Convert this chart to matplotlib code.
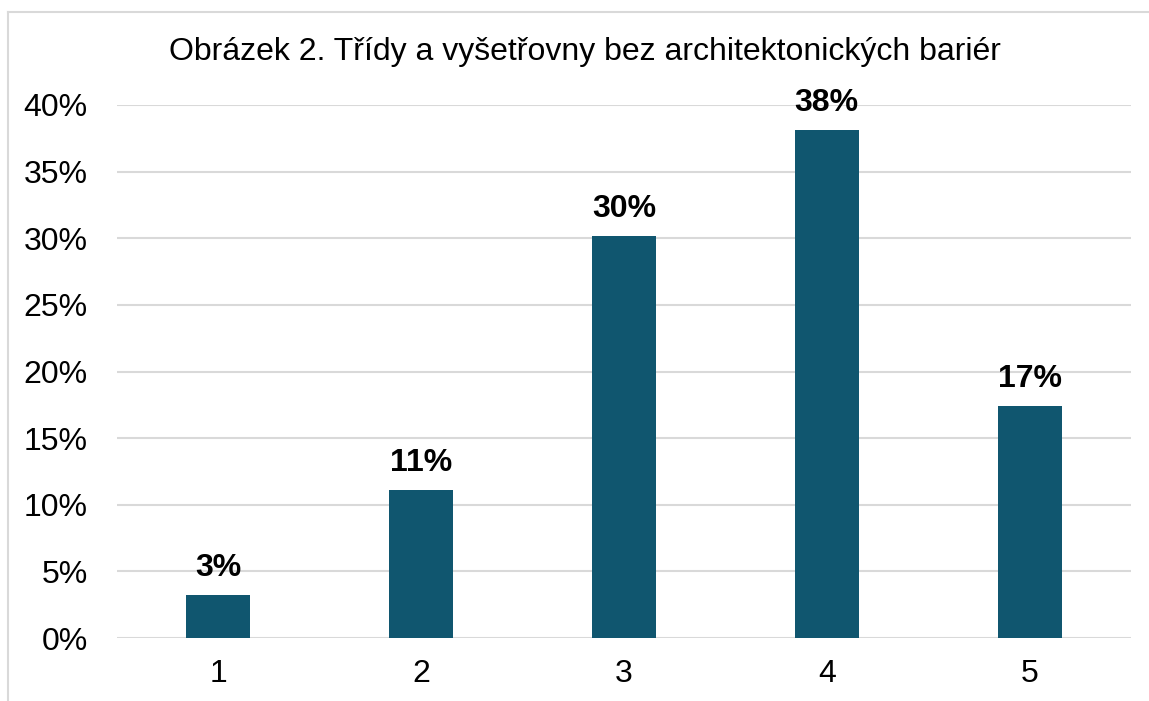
import matplotlib
matplotlib.use("Agg")
import matplotlib.pyplot as plt
from matplotlib.lines import Line2D

categories = ["1", "2", "3", "4", "5"]
values = [3.2, 11.1, 30.2, 38.1, 17.4]
labels = ["3%", "11%", "30%", "38%", "17%"]
yticks = [0, 5, 10, 15, 20, 25, 30, 35, 40]
title = "Obrázek 2. Třídy a vyšetřovny bez architektonických bariér"

plt.rcParams['font.family'] = ['Liberation Sans', 'DejaVu Sans']

W, H = 1149, 701
fig = plt.figure(figsize=(W / 100, H / 100), dpi=100)
ax = fig.add_axes([117 / W, 1 - 638 / H, (1131 - 117) / W, (638 - 105) / H])

x = list(range(len(categories)))
ax.bar(x, values, width=0.315, color="#10566F", zorder=3)
for xi, v, lab in zip(x, values, labels):
    ax.text(xi, v + 0.9, lab, ha="center", va="bottom", fontsize=23,
            fontweight="bold", color="black")

ax.set_xlim(-0.5, len(categories) - 0.5)
ax.set_ylim(0, 40)
ax.set_yticks(yticks)
ax.set_yticklabels([f"{t}%" for t in yticks], fontsize=23)
ax.set_xticks(x)
ax.set_xticklabels(categories, fontsize=23)
ax.tick_params(axis="both", length=0, colors="black")
ax.tick_params(axis="y", pad=21)
ax.tick_params(axis="x", pad=15)
ax.grid(axis="y", color="#D9D9D9", linewidth=1.5, zorder=0)
for s in ax.spines.values():
    s.set_visible(False)

fig.text(585 / W, 1 - 52 / H, title, ha="center", va="center", fontsize=23)

fig.add_artist(Line2D([8 / W, 8 / W], [0, 1 - 12 / H], color="#D9D9D9", linewidth=1.5))
fig.add_artist(Line2D([8 / W, 1], [1 - 12 / H, 1 - 12 / H], color="#D9D9D9", linewidth=1.5))

fig.savefig("out.png", dpi=100)
